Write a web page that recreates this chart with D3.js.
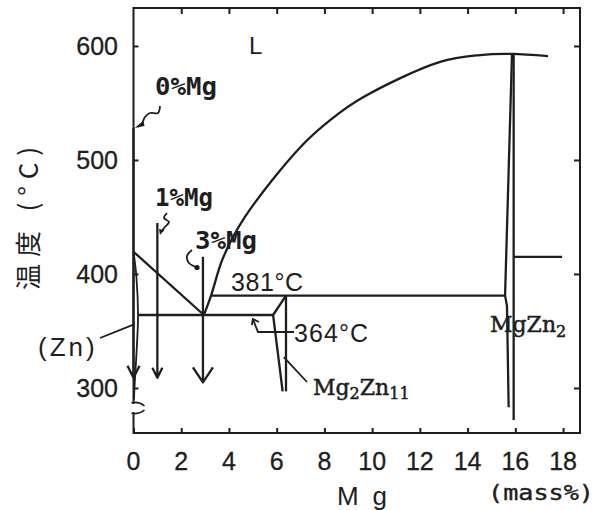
<!DOCTYPE html>
<html><head><meta charset="utf-8">
<script src="https://cdn.jsdelivr.net/npm/d3@7"></script>
<style>
body{margin:0;background:#fff;}
svg{display:block;}
</style></head><body>
<svg id="c" width="598" height="510"></svg>
<script>
// Zn–Mg binary phase diagram, Zn-rich side (temperature vs. mass% Mg)
const xTicks = [0, 2, 4, 6, 8, 10, 12, 14, 16, 18];
const yTicks = [300, 400, 500, 600];

// phase boundaries: [mass% Mg, °C]
const liquidusZn   = [[0, 419.5], [2.95, 364]];
const liquidusMg   = [[2.95, 364], [3.25, 381], [3.75, 414], [4.67, 450], [6.98, 511], [8.24, 535],
                      [9.62, 555], [12.85, 586], [14.52, 592], [15.86, 593], [17.37, 591]];
const solvusZn     = [[0, 419.5], [0.12, 398], [0.19, 364], [0.15, 340], [0.04, 300], [0.02, 290]];
const eutectic364  = [[0.19, 364], [5.85, 364]];
const peritectic381 = [[3.25, 381], [15.57, 381]];
const mg2zn11Left  = [[6.39, 381], [5.85, 364], [6.25, 297]];
const mg2zn11Right = [[6.39, 381], [6.39, 297]];
const mgzn2Left    = [[15.86, 593], [15.57, 381], [15.65, 372], [15.72, 283]];
const mgzn2Right   = [[15.93, 593], [15.93, 272]];
const eutectic416  = [[15.93, 415], [17.96, 415]];

// cooling paths for three alloys
const pathLabels = ["0%Mg", "1%Mg", "3%Mg"];
const pathMg     = [0, 1.0, 2.91];
const pathFrom   = [528, 444.7, 415];
const pathTo     = [309, 309, 305];

const svg = d3.select("#c");
const ink = "#1e1e1e";
const W = 598, H = 510;
const pL = 133.5, pR = 580, pT = 8, pB = 433;

const x = d3.scaleLinear().domain([0, 18.71]).range([pL, pR]);
const y = d3.scaleLinear().domain([260.5, 633.3]).range([pB, pT]);

svg.append("rect").attr("width", W).attr("height", H).attr("fill", "#fff");

// frame with a broken temperature axis near its foot
const frame = svg.append("g").attr("fill", "none").attr("stroke", ink).attr("stroke-width", 2);
frame.append("path").attr("d", `M${pL},404 V${pT} H${pR} V${pB} H${pL} V412`);
frame.append("path").attr("stroke-width", 1.6)
  .attr("d", `M${pL - 2},403 Q${pL + 5},401 ${pL + 11},406 M${pL - 2},413 Q${pL + 5},415 ${pL + 11},410`);

// axes via d3 (inner ticks)
const axB = d3.axisBottom(x).tickValues(xTicks).tickSize(-5).tickFormat("");
const axT = d3.axisTop(x).tickValues(xTicks.slice(1)).tickSize(-6).tickFormat("");
const axL = d3.axisLeft(y).tickValues(yTicks).tickSize(-5).tickFormat("");
const axR = d3.axisRight(y).tickValues(yTicks).tickSize(-6).tickFormat("");
[[axB, `translate(0,${pB})`], [axT, `translate(0,${pT})`],
 [axL, `translate(${pL},0)`], [axR, `translate(${pR},0)`]].forEach(([a, t]) => {
  const g = svg.append("g").attr("transform", t).call(a);
  g.select(".domain").remove();
  g.selectAll("line").attr("stroke", ink).attr("stroke-width", 2);
});

// tick labels
const tickFont = "'Liberation Sans', Arial, sans-serif";
svg.append("g").selectAll("text").data(xTicks).join("text")
  .attr("x", d => x(d)).attr("y", 470).attr("text-anchor", "middle")
  .attr("font-family", tickFont).attr("font-size", 25).attr("fill", ink)
  .attr("stroke", ink).attr("stroke-width", 0.3).text(d => d);
svg.append("g").selectAll("text").data(yTicks).join("text")
  .attr("x", 118).attr("y", d => y(d) + 9).attr("text-anchor", "end")
  .attr("font-family", tickFont).attr("font-size", 25).attr("fill", ink)
  .attr("stroke", ink).attr("stroke-width", 0.3).text(d => d);

// axis titles
svg.append("text").attr("x", 337).attr("y", 505)
  .attr("font-family", tickFont).attr("font-size", 26).attr("fill", ink)
  .attr("textLength", 50).attr("lengthAdjust", "spacing").text("Mg");
svg.append("text").attr("x", 488).attr("y", 500)
  .attr("font-family", "'DejaVu Sans Mono', monospace")
  .attr("font-size", 22).attr("fill", ink).attr("stroke", ink).attr("stroke-width", 0.4)
  .attr("textLength", 106).attr("lengthAdjust", "spacingAndGlyphs").text("(mass%)");
svg.append("text").attr("transform", "translate(38,290) rotate(-90)")
  .attr("font-family", "'Noto Sans CJK JP', sans-serif").attr("font-size", 26).attr("fill", ink)
  .attr("textLength", 143).attr("lengthAdjust", "spacing").text("温度 (°C)");

// phase boundaries
const line = d3.line().x(d => x(d[0])).y(d => y(d[1]));
const curve = d3.line().x(d => x(d[0])).y(d => y(d[1])).curve(d3.curveCatmullRom.alpha(0.5));
const lines = svg.append("g").attr("fill", "none").attr("stroke", ink)
  .attr("stroke-width", 2.3).attr("stroke-linejoin", "round");
lines.append("path").attr("d", line(liquidusZn));
lines.append("path").attr("d", curve(liquidusMg));
lines.append("path").attr("d", curve(solvusZn)).attr("stroke-width", 1.8);
[eutectic364, peritectic381, mg2zn11Left, mg2zn11Right, mgzn2Left, mgzn2Right, eutectic416]
  .forEach(p => lines.append("path").attr("d", line(p)));

// cooling arrows
const heads = [[6, 12], [5, 10], [10, 15]];
pathMg.forEach((m, i) => {
  const px = x(m), y0 = y(pathFrom[i]), y1 = y(pathTo[i]);
  const [hw, hh] = heads[i];
  lines.append("path").attr("d", `M${px},${y0} V${y1} M${px - hw},${y1 - hh} L${px},${y1} L${px + hw},${y1 - hh}`);
});

// labels for the cooling paths
const labelPos = [[155, 95, 62], [155, 206, 58], [195, 249, 62]];
pathLabels.forEach((t, i) => {
  svg.append("text").attr("x", labelPos[i][0]).attr("y", labelPos[i][1])
    .attr("font-family", "'DejaVu Sans Mono', monospace").attr("font-weight", "bold")
    .attr("font-size", 24).attr("fill", ink)
    .attr("textLength", labelPos[i][2]).attr("lengthAdjust", "spacingAndGlyphs").text(t);
});

// wavy leaders from the labels to the cooling paths
const lead = d3.line().curve(d3.curveCatmullRom);
const leaders = svg.append("g").attr("fill", "none").attr("stroke", ink).attr("stroke-width", 1.8);
const tip0 = [x(0) + 1, y(pathFrom[0])];
leaders.append("path").attr("d", lead([[160, 106], [158, 113], [150, 113], [145, 117], [142, 123], [tip0[0] + 3, tip0[1] - 1]]));
svg.append("path").attr("fill", ink).attr("d", `M${tip0[0]},${tip0[1]} l9,-7 l1,5 z`);
leaders.append("path").attr("d", lead([[167, 213], [164, 218], [169, 222], [164, 228], [162, 232]]));
svg.append("path").attr("fill", ink).attr("d", `M160,235 l-1,-6 l5,1 z`);
leaders.append("path").attr("d", lead([[192, 250], [187, 256], [189, 263], [196, 267]]));
svg.append("circle").attr("cx", 197).attr("cy", 267.5).attr("r", 2.6).attr("fill", ink);

// temperature annotations
const annFont = "'Liberation Sans', Arial, sans-serif";
svg.append("text").attr("x", 231).attr("y", y(381) - 5).attr("font-family", annFont)
  .attr("font-size", 25).attr("fill", ink).attr("textLength", 72).text("381°C");
svg.append("text").attr("x", 294).attr("y", 342).attr("font-family", annFont)
  .attr("font-size", 25).attr("fill", ink).attr("textLength", 74).text("364°C");
leaders.append("path").attr("d", `M294,332 H258 L${x(5.0)},${y(364) + 4}`);
leaders.append("path").attr("d", `M${x(5.0) - 1},${y(364) + 10} L${x(5.0)},${y(364) + 4} L${x(5.0) + 6},${y(364) + 7}`);

svg.append("text").attr("x", 38).attr("y", 356).attr("font-family", annFont)
  .attr("font-size", 26).attr("fill", ink).attr("letter-spacing", 3).text("(Zn)");
leaders.append("path").attr("d", `M100,338 L${x(0.05)},${y(356)}`);

svg.append("text").attr("x", 249).attr("y", 54).attr("font-family", annFont)
  .attr("font-size", 24).attr("fill", ink).text("L");

// intermetallic compound labels
const serif = "'DejaVu Serif', 'Liberation Serif', serif";
const mz = svg.append("text").attr("x", 490).attr("y", 332).attr("font-family", serif)
  .attr("font-size", 22).attr("fill", ink).attr("stroke", ink).attr("stroke-width", 0.5);
mz.append("tspan").text("MgZn");
mz.append("tspan").attr("font-size", 16).attr("dy", 5).text("2");

const mz11 = svg.append("text").attr("x", 313).attr("y", 395).attr("font-family", serif)
  .attr("font-size", 22).attr("fill", ink).attr("stroke", ink).attr("stroke-width", 0.5);
mz11.append("tspan").text("Mg");
mz11.append("tspan").attr("font-size", 16).attr("dy", 4).text("2");
mz11.append("tspan").attr("dy", -4).text("Zn");
mz11.append("tspan").attr("font-size", 16).attr("dy", 4).text("11");
leaders.append("path").attr("d", `M307,382 L${x(6.3)},${y(327)}`);
</script>
</body></html>
